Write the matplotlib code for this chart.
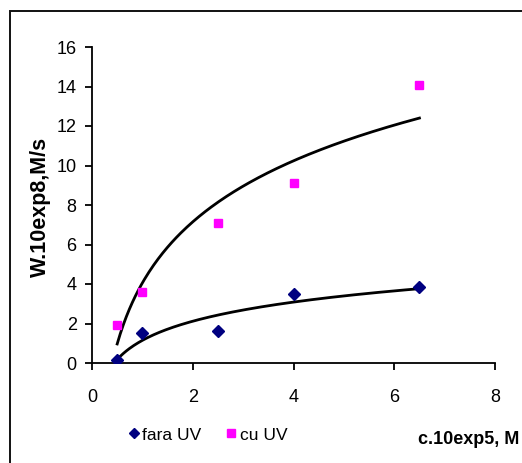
import numpy as np
import matplotlib
matplotlib.use("Agg")
from matplotlib import pyplot as plt
from matplotlib.patches import Rectangle

# data
conc = [0.5, 1.0, 2.5, 4.0, 6.5]
w_fara = [0.15, 1.5, 1.6, 3.5, 3.85]
w_cu = [1.9, 3.6, 7.1, 9.1, 14.1]
xticks = [0, 2, 4, 6, 8]
yticks = [0, 2, 4, 6, 8, 10, 12, 14, 16]

plt.rcParams['font.family'] = ['Liberation Sans', 'DejaVu Sans']

W, H = 522, 463
fig = plt.figure(figsize=(W / 100, H / 100), dpi=100)

# outer frame (cut at right and bottom like the original)
fig.patches.append(Rectangle((10 / W, -0.1), 1.2, 1 - 11 / H + 0.1,
                             transform=fig.transFigure, fill=False,
                             edgecolor='#111111', linewidth=1.4))

ax = fig.add_axes([92 / W, 1 - 363 / H, (495 - 92) / W, (363 - 47) / H])
ax.set_xlim(0, 8)
ax.set_ylim(0, 16)

# logarithmic trend lines fitted to the points
xs = np.linspace(min(conc), max(conc), 200)
for ys in (w_fara, w_cu):
    a, b = np.polyfit(np.log(conc), ys, 1)
    ax.plot(xs, a * np.log(xs) + b, color='black', linewidth=2.0, zorder=2)

fara, = ax.plot(conc, w_fara, linestyle='none', marker='D', markersize=6.5,
                color='#000080', zorder=3, label='fara UV')
cu, = ax.plot(conc, w_cu, linestyle='none', marker='s', markersize=6,
              color='#FF00FF', zorder=3, label='cu UV')

ax.set_xticks(xticks)
ax.set_yticks(yticks)
ax.spines['top'].set_visible(False)
ax.spines['right'].set_visible(False)
for s in ('left', 'bottom'):
    ax.spines[s].set_linewidth(1.3)
ax.tick_params(axis='both', direction='out', length=5, width=1.3, labelsize=13)
ax.tick_params(axis='x', pad=14)
ax.tick_params(axis='y', pad=6)

fig.text(40 / W, 1 - 207 / H, 'W.10exp8,M/s', rotation=90, ha='center',
         va='center', fontsize=15.5, fontweight='bold')
fig.text(519 / W, 1 - 440 / H, 'c.10exp5, M', ha='right', va='center',
         fontsize=13, fontweight='bold')

fig.legend(handles=[fara, cu], loc='center', ncol=2, frameon=False,
           bbox_to_anchor=(208 / W, 1 - 435 / H), fontsize=12.5,
           handlelength=0.6, handletextpad=0.2, columnspacing=1.4,
           markerscale=0.85)

fig.savefig('out.png', dpi=100)
